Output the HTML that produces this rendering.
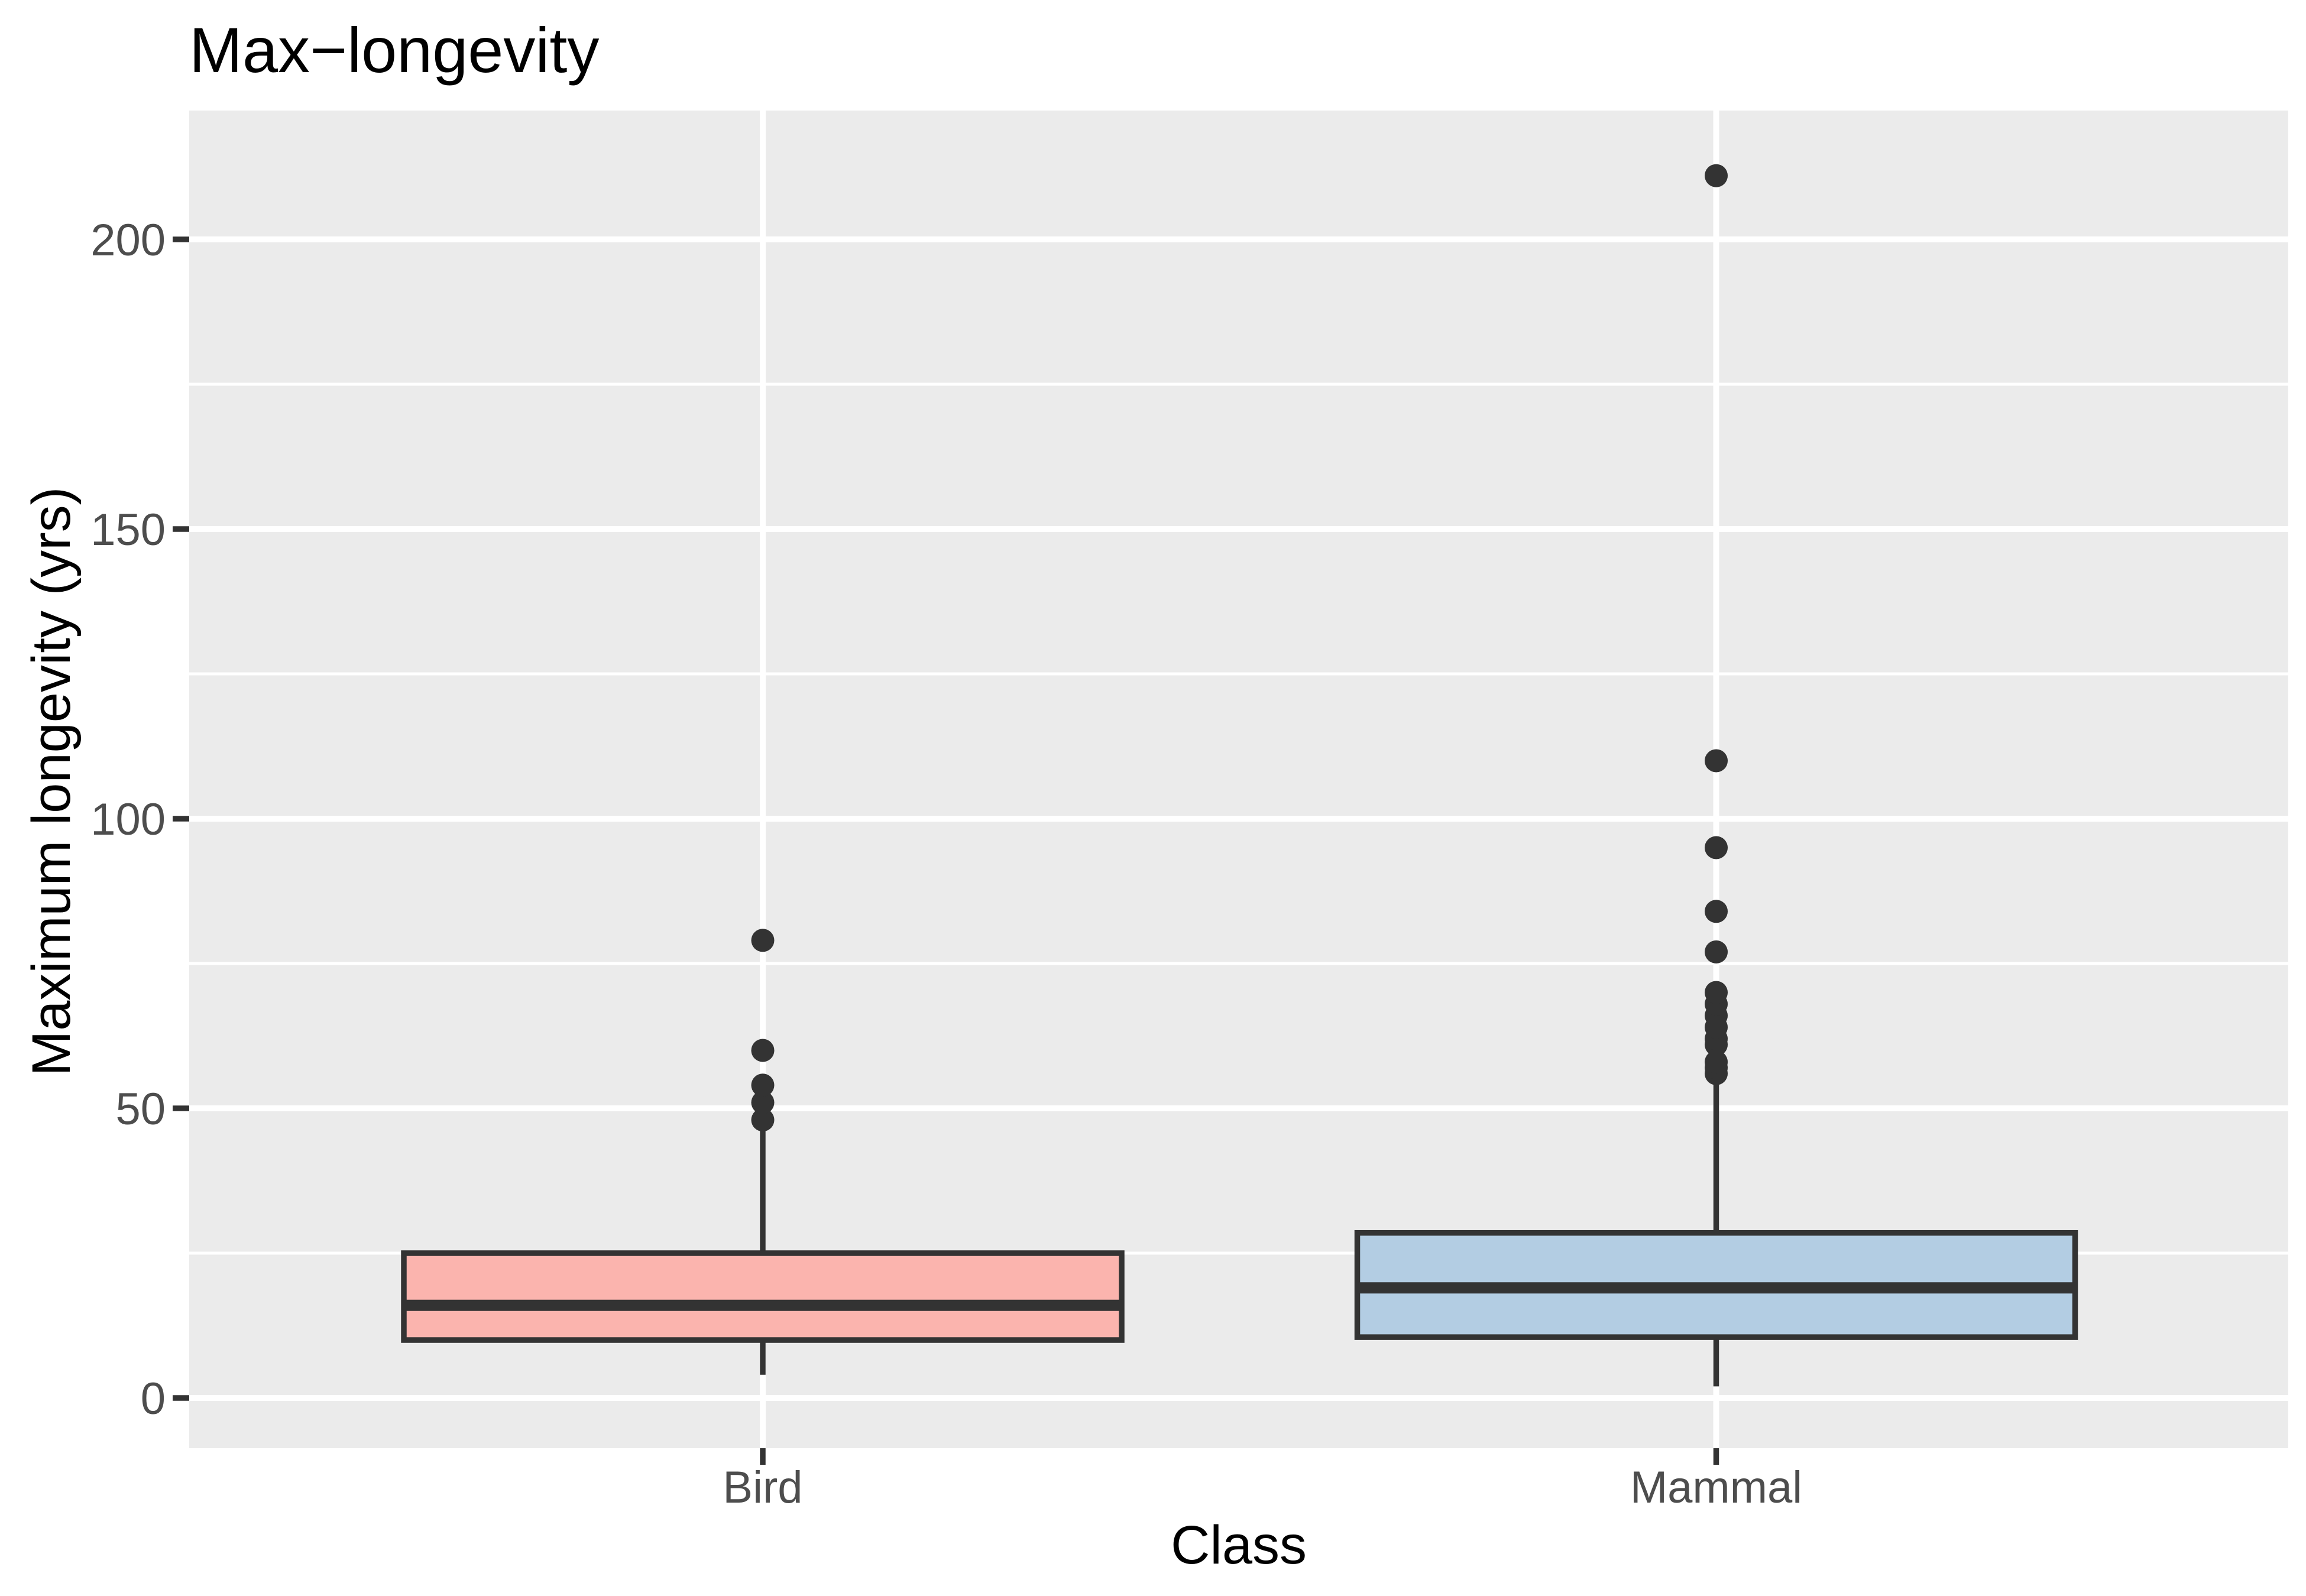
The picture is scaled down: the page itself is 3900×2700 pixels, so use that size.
<!DOCTYPE html>
<html><head><meta charset="utf-8"><style>body{margin:0;background:#fff}svg{display:block}text{font-family:"Liberation Sans",Arial,sans-serif}</style></head>
<body>
<svg id="chart" width="3900" height="2700" viewBox="0 0 3900 2700">
<rect width="3900" height="2700" fill="#fff"/>
<text x="320" y="122" font-size="108" fill="#000">Max−longevity</text>
<rect x="320" y="187" width="3550" height="2263" fill="#ebebeb"/>
<g id="grid"></g>
<g id="marks"></g>
<g id="axes"></g>
<text x="2095" y="2645" font-size="92" text-anchor="middle" fill="#000">Class</text>
<text transform="translate(118,1322) rotate(-90)" font-size="92" text-anchor="middle" fill="#000">Maximum longevity (yrs)</text>
</svg>
<script>
const categories = ["Bird", "Mammal"];
const fills = ["#fbb4ae", "#b3cde3"];
const lowerWhisker = [4, 2];
const q1 = [10, 10.5];
const median = [16, 19];
const q3 = [25, 28.5];
const upperWhisker = [47, 56];
const outliersBird = [48, 51, 54, 60, 79];
const outliersMammal = [56, 57, 58, 61, 62, 64, 66, 68, 70, 77, 84, 95, 110, 211];
const yTicks = [0, 50, 100, 150, 200];
const yMinor = [25, 75, 125, 175];

const NS = "http://www.w3.org/2000/svg";
const y = v => 2365 - v * 9.8;
const x = i => 1290 + i * 1612.5;
const halfW = 607;
function mk(tag, attrs, parent){const e=document.createElementNS(NS,tag);for(const k in attrs)e.setAttribute(k,attrs[k]);parent.appendChild(e);return e;}
const grid=document.getElementById('grid'), marks=document.getElementById('marks'), axes=document.getElementById('axes');
yMinor.forEach(v=>{const l=mk('line',{x1:320,x2:3870,y1:y(v),y2:y(v),stroke:'#fff','stroke-width':5},grid);

});
yTicks.forEach(v=>{const l=mk('line',{x1:320,x2:3870,y1:y(v),y2:y(v),stroke:'#fff','stroke-width':10},grid);


const t=mk('line',{x1:292,x2:320,y1:y(v),y2:y(v),stroke:'#333','stroke-width':9.5},axes);


const tx=mk('text',{x:280,y:y(v)+27,'font-size':76,'text-anchor':'end',fill:'#4d4d4d'},axes);tx.textContent=v;

});
categories.forEach((c,i)=>{
const g=mk('line',{x1:x(i),x2:x(i),y1:187,y2:2450,stroke:'#fff','stroke-width':10},grid);


const t=mk('line',{x1:x(i),x2:x(i),y1:2450,y2:2478,stroke:'#333','stroke-width':9.5},axes);


const tx=mk('text',{x:x(i),y:2542,'font-size':76,'text-anchor':'middle',fill:'#4d4d4d'},axes);tx.textContent=c;


const w1=mk('line',{x1:x(i),x2:x(i),y1:y(lowerWhisker[i]),y2:y(q1[i]),stroke:'#333','stroke-width':9.5},marks);


const w2=mk('line',{x1:x(i),x2:x(i),y1:y(q3[i]),y2:y(upperWhisker[i]),stroke:'#333','stroke-width':9.5},marks);


const b=mk('rect',{x:x(i)-halfW,y:y(q3[i]),width:2*halfW,height:y(q1[i])-y(q3[i]),fill:fills[i],stroke:'#333','stroke-width':9.5},marks);


const m=mk('line',{x1:x(i)-halfW,x2:x(i)+halfW,y1:y(median[i]),y2:y(median[i]),stroke:'#333','stroke-width':19},marks);


const outs = i===0 ? outliersBird : outliersMammal;
outs.forEach(v=>{const p=mk('circle',{cx:x(i),cy:y(v),r:19.5,fill:'#333'},marks);

});
});
</script>
</body></html>
